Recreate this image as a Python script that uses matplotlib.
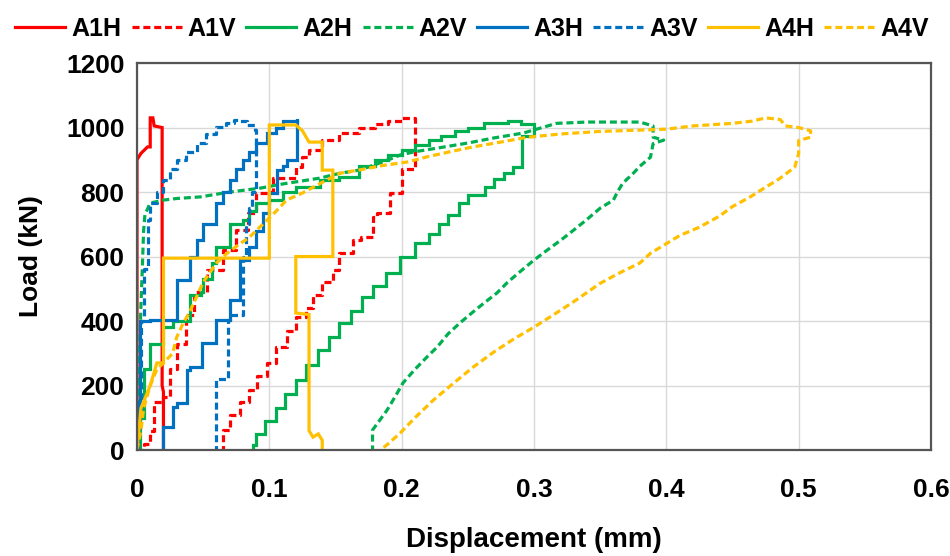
import matplotlib
matplotlib.use("Agg")
import matplotlib.pyplot as plt

plt.rcParams['font.family'] = ['Liberation Sans', 'DejaVu Sans']

# displacement (mm) / load (kN), loading then unloading
a1h_x = [0, 0, 0.003, 0.008, 0.010, 0.010, 0.012, 0.013, 0.019, 0.019, 0.020, 0.020]
a1h_y = [0, 900, 920, 940, 940, 1030, 1030, 1005, 1000, 200, 180, 0]

a1v_x = [0, 0.005, 0.010, 0.013, 0.020, 0.025, 0.030, 0.037, 0.043, 0.053, 0.065, 0.075,
         0.084, 0.090, 0.100, 0.103, 0.120, 0.125, 0.130, 0.140, 0.153, 0.168, 0.180,
         0.190, 0.200, 0.210,
         0.210, 0.200, 0.200, 0.191, 0.191, 0.181, 0.178, 0.169, 0.163, 0.153, 0.148,
         0.140, 0.133, 0.128, 0.120, 0.113, 0.105, 0.098, 0.091, 0.085, 0.078, 0.070,
         0.065, 0.065]
a1v_y = [0, 20, 60, 150, 165, 250, 330, 420, 490, 558, 620, 682,
         735, 797, 800, 843, 877, 908, 930, 961, 983, 998, 1010,
         1020, 1030, 1030,
         870, 860, 797, 785, 735, 722, 660, 651, 610, 558, 520,
         480, 440, 413, 370, 320, 270, 230, 186, 150, 110, 62,
         30, 0]

a2h_x = [0, 0.002, 0.005, 0.010, 0.020, 0.027, 0.040, 0.040, 0.048, 0.050, 0.057, 0.060,
         0.070, 0.070, 0.080, 0.085, 0.090, 0.100, 0.110, 0.120, 0.138, 0.153, 0.168,
         0.180, 0.190, 0.200, 0.210, 0.221, 0.230, 0.240, 0.250, 0.262, 0.280, 0.290,
         0.300, 0.300,
         0.291, 0.291, 0.284, 0.277, 0.270, 0.263, 0.250, 0.243, 0.235, 0.228, 0.221,
         0.210, 0.199, 0.188, 0.178, 0.170, 0.162, 0.153, 0.145, 0.137, 0.128, 0.120,
         0.112, 0.105, 0.097, 0.090, 0.088]
a2h_y = [0, 100, 250, 330, 380, 400, 400, 480, 490, 530, 580, 630,
         650, 700, 713, 740, 766, 775, 800, 815, 837, 847, 880,
         900, 915, 930, 945, 961, 975, 988, 998, 1013, 1020, 1010,
         992, 975,
         955, 877, 860, 840, 815, 790, 766, 730, 700, 670, 642,
         600, 549, 510, 474, 430, 395, 350, 310, 265, 217, 175,
         130, 90, 50, 15, 0]

a2v_x = [0, 0.001, 0.002, 0.003, 0.004, 0.005, 0.006, 0.010, 0.020, 0.030, 0.048, 0.070,
         0.093, 0.110, 0.138, 0.153, 0.168, 0.180, 0.190, 0.199, 0.210, 0.225, 0.250,
         0.270, 0.292, 0.317, 0.340, 0.360, 0.380, 0.390, 0.390, 0.398,
         0.390, 0.388, 0.380, 0.375, 0.367, 0.363, 0.360, 0.350, 0.340, 0.330, 0.320,
         0.310, 0.300, 0.290, 0.280, 0.272, 0.262, 0.253, 0.244, 0.235, 0.227, 0.219,
         0.210, 0.201, 0.195, 0.189, 0.183, 0.178, 0.178]
a2v_y = [0, 80, 300, 450, 560, 680, 730, 766, 775, 780, 785, 800,
         812, 825, 843, 858, 868, 885, 900, 915, 925, 935, 952,
         968, 983, 1013, 1017, 1017, 1017, 1005, 970, 961,
         950, 908, 880, 858, 827, 800, 775, 750, 715, 682, 650,
         620, 589, 555, 520, 487, 455, 425, 394, 360, 320, 288,
         250, 208, 165, 124, 90, 62, 0]

a3h_x = [0, 0.001, 0.002, 0.010, 0.023, 0.030, 0.030, 0.040, 0.040, 0.045, 0.050, 0.060,
         0.065, 0.070, 0.075, 0.080, 0.085, 0.090, 0.098, 0.105, 0.110, 0.121,
         0.121, 0.113, 0.110, 0.106, 0.100, 0.095, 0.090, 0.085, 0.078, 0.078, 0.070,
         0.070, 0.060, 0.060, 0.049, 0.049, 0.040, 0.038, 0.030, 0.027, 0.020, 0.020]
a3h_y = [0, 150, 400, 403, 403, 403, 527, 558, 600, 651, 700, 766,
         800, 837, 870, 899, 925, 952, 983, 1000, 1020, 1025,
         900, 880, 868, 797, 735, 680, 630, 590, 558, 465, 456,
         403, 394, 332, 319, 257, 248, 146, 133, 71, 9, 0]

a3v_x = [0, 0.001, 0.002, 0.003, 0.005, 0.008, 0.010, 0.015, 0.020, 0.025, 0.030, 0.037,
         0.045, 0.052, 0.060, 0.067, 0.073, 0.078, 0.083, 0.089, 0.090,
         0.090, 0.087, 0.085, 0.082, 0.080, 0.080, 0.070, 0.069, 0.060, 0.060]
a3v_y = [0, 70, 115, 400, 560, 713, 766, 800, 837, 870, 900, 925,
         952, 980, 1002, 1015, 1023, 1020, 1008, 992, 985,
         800, 750, 700, 600, 558, 420, 403, 220, 208, 0]

a4h_x = [0, 0.003, 0.010, 0.015, 0.020, 0.020, 0.050, 0.100, 0.100, 0.120, 0.125, 0.130,
         0.140, 0.140, 0.148, 0.148, 0.130, 0.120, 0.120, 0.130, 0.130, 0.133, 0.137,
         0.140, 0.140]
a4h_y = [0, 130, 200, 270, 270, 595, 595, 595, 1008, 1008, 990, 955,
         955, 868, 868, 600, 600, 600, 425, 420, 60, 40, 50,
         30, 0]

a4v_x = [0, 0.003, 0.005, 0.010, 0.015, 0.020, 0.027, 0.030, 0.035, 0.040, 0.050, 0.060,
         0.068, 0.078, 0.085, 0.095, 0.105, 0.113, 0.125, 0.140, 0.153, 0.170, 0.185,
         0.204, 0.220, 0.240, 0.254, 0.275, 0.295, 0.320, 0.350, 0.380, 0.400, 0.420,
         0.450, 0.465, 0.475, 0.486, 0.490, 0.500, 0.509, 0.509,
         0.500, 0.500, 0.497, 0.485, 0.475, 0.463, 0.450, 0.440, 0.425, 0.410, 0.400,
         0.388, 0.380, 0.365, 0.350, 0.330, 0.315, 0.300, 0.285, 0.270, 0.254, 0.240,
         0.224, 0.210, 0.199, 0.190, 0.184]
a4v_y = [0, 60, 130, 200, 250, 270, 300, 350, 394, 430, 520, 580,
         610, 640, 660, 700, 740, 775, 797, 830, 858, 870, 882,
         893, 910, 928, 940, 955, 970, 980, 988, 992, 995, 1005,
         1013, 1020, 1030, 1025, 1005, 1000, 990, 970,
         960, 920, 877, 840, 815, 784, 755, 725, 691, 665, 640,
         610, 580, 550, 517, 460, 420, 381, 345, 305, 257, 210,
         155, 100, 53, 20, 0]

names = ["A1H", "A1V", "A2H", "A2V", "A3H", "A3V", "A4H", "A4V"]
xs = [a1h_x, a1v_x, a2h_x, a2v_x, a3h_x, a3v_x, a4h_x, a4v_x]
ys = [a1h_y, a1v_y, a2h_y, a2v_y, a3h_y, a3v_y, a4h_y, a4v_y]
colors = ["#ff0000", "#ff0000", "#00b050", "#00b050", "#0070c0", "#0070c0", "#ffc000", "#ffc000"]
stepped = [False, True, True, False, True, True, False, False]

fig = plt.figure(figsize=(9.5, 5.56), dpi=100)
ax = fig.add_axes([0.1442, 0.1906, 0.8358, 0.696])

for name, x, y, c, st in zip(names, xs, ys, colors, stepped):
    ls = "-" if name.endswith("H") else (0, (2.2, 1.2))
    ax.plot(x, y, color=c, lw=2.3, ls=ls, label=name,
            drawstyle="steps-post" if st else "default", solid_joinstyle="miter")

ax.set_xlim(0, 0.6)
ax.set_ylim(0, 1200)
ax.set_xticks([0, 0.1, 0.2, 0.3, 0.4, 0.5, 0.6])
ax.set_xticklabels(["0", "0.1", "0.2", "0.3", "0.4", "0.5", "0.6"])
ax.set_yticks(range(0, 1201, 200))
ax.grid(True, color="#d9d9d9", lw=1)
ax.set_axisbelow(True)
ax.tick_params(length=0, labelsize=19)
ax.tick_params(axis="x", pad=20)
ax.tick_params(axis="y", pad=9)
for lab in ax.get_xticklabels() + ax.get_yticklabels():
    lab.set_fontweight("bold")
for sp in ax.spines.values():
    sp.set_color("#555555")
    sp.set_linewidth(1.6)

ax.set_xlabel("Displacement (mm)", fontsize=20, fontweight="bold")
ax.set_ylabel("Load (kN)", fontsize=19, fontweight="bold")
ax.xaxis.set_label_coords(0.5, -0.20)
ax.yaxis.set_label_coords(-0.118, 0.5)

fig.legend(loc="upper center", bbox_to_anchor=(0.497, 1.01), ncol=8, frameon=False,
           prop={"size": 18, "weight": "bold"}, handlelength=2.0,
           handletextpad=0.25, columnspacing=0.4)

fig.savefig("out.png", dpi=100)
